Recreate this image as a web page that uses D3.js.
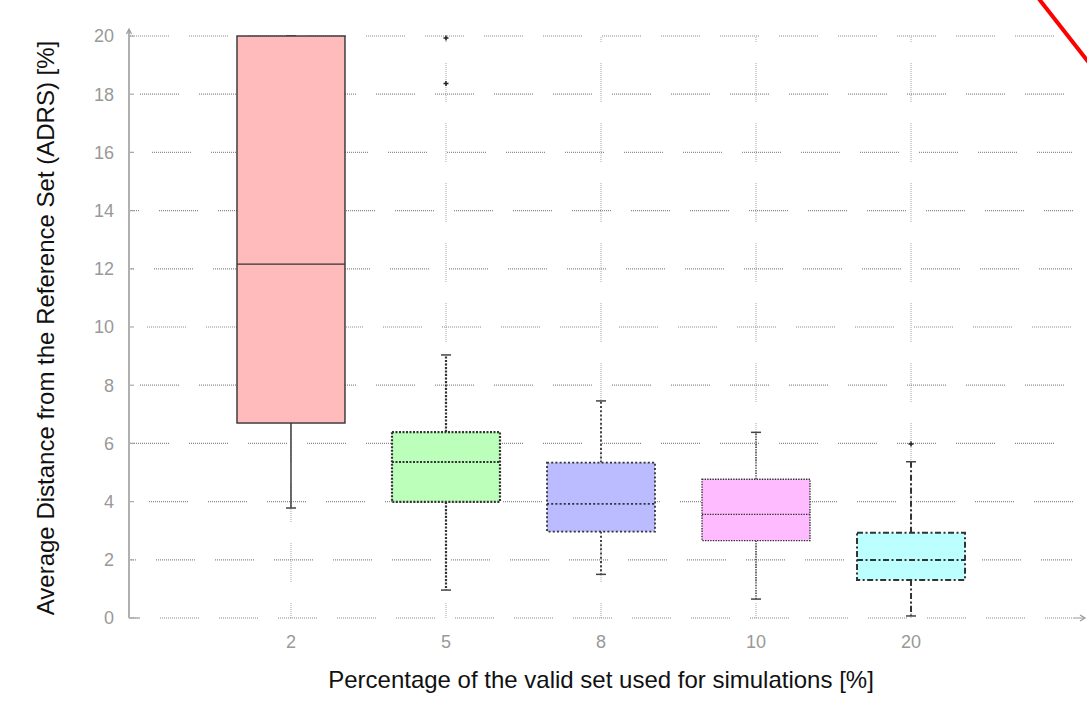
<!DOCTYPE html>
<html>
<head>
<meta charset="utf-8">
<script src="https://cdn.jsdelivr.net/npm/d3@7"></script>
<style>
  html, body { margin: 0; padding: 0; background: #fff; }
  svg { display: block; font-family: "Liberation Sans", Arial, sans-serif; }
</style>
</head>
<body>
<svg id="chart" width="1087" height="701"></svg>
<script>
// ---- data ----
const categories = ["2", "5", "8", "10", "20"];
const q1 = [6.70, 3.99, 2.97, 2.66, 1.31];
const median = [12.16, 5.36, 3.92, 3.56, 1.99];
const q3 = [20.0, 6.39, 5.34, 4.77, 2.93];
const whiskerLow = [3.78, 0.96, 1.50, 0.65, 0.07];
const whiskerHigh = [20.0, 9.04, 7.46, 6.38, 5.37];
const outliers = [[], [19.93, 18.37], [], [], [5.98]];
const yTicks = [0, 2, 4, 6, 8, 10, 12, 14, 16, 18, 20];
const fills = ["#ffbbbb", "#bbffbb", "#bbbbff", "#ffbbff", "#bbffff"];
const strokeDash = [null, "2,1.5", "2,2.2", "1.4,1.2", "6,2.5,2,2.5"];
const strokeWidths = [1.4, 2.2, 1.8, 1.4, 2];
const xTitle = "Percentage of the valid set used for simulations [%]";
const yTitle = "Average Distance from the Reference Set (ADRS) [%]";

(function () {
// ---- layout ----
const svg = d3.select("#chart");
const mLeft = 129, mRight = 1073, mTop = 36, mBottom = 618;
const x = d3.scalePoint().domain(categories).range([mLeft, mRight]).padding(1.045);
const y = d3.scaleLinear().domain([0, 20]).range([mBottom, mTop]);
const boxW = 108;
const gridPhase = {20: 0, 18: 11, 16: 23, 14: 30, 12: 25, 10: 18, 8: 11, 6: 0, 4: 20, 2: 27, 0: 31};

// dotted dash pattern: 40px of fine dots, then a gap
function dottedDash(dashLen, gap) {
  const arr = [];
  for (let k = 0; k < dashLen / 2; k++) arr.push(1, 1);
  arr[arr.length - 1] += gap - 1;
  return arr.join(",");
}

// vertical grid lines
svg.append("g").selectAll("line").data(categories).join("line")
  .attr("x1", d => x(d)).attr("x2", d => x(d))
  .attr("y1", mTop).attr("y2", mBottom)
  .attr("stroke", "#a8a8a8").attr("stroke-width", 1)
  .attr("stroke-dasharray", dottedDash(40, 21)).attr("stroke-dashoffset", -27);

// horizontal grid lines
svg.append("g").selectAll("line").data(yTicks).join("line")
  .attr("x1", mLeft + 1).attr("x2", mRight)
  .attr("y1", d => y(d)).attr("y2", d => y(d))
  .attr("stroke", "#8a8a8a").attr("stroke-width", 1.2)
  .attr("stroke-dasharray", dottedDash(40, 20))
  .attr("stroke-dashoffset", d => (60 - gridPhase[d]) % 60);

// small ticks at the axis
svg.append("g").selectAll("line").data(yTicks).join("line")
  .attr("x1", mLeft).attr("x2", mLeft + 5)
  .attr("y1", d => y(d)).attr("y2", d => y(d))
  .attr("stroke", "#aaa").attr("stroke-width", 1.2);

// y axis line
svg.append("line").attr("x1", mLeft).attr("x2", mLeft)
  .attr("y1", mTop - 6).attr("y2", mBottom)
  .attr("stroke", "#b0b0b0").attr("stroke-width", 2);
svg.append("path").attr("d", `M${mLeft - 2.5},${mTop - 2} L${mLeft},${mTop - 7} L${mLeft + 2.5},${mTop - 2}`)
  .attr("fill", "none").attr("stroke", "#999").attr("stroke-width", 1.2);
svg.append("line").attr("x1", mLeft).attr("x2", mLeft + 10)
  .attr("y1", mBottom).attr("y2", mBottom)
  .attr("stroke", "#b0b0b0").attr("stroke-width", 1.5);
// x axis arrow
svg.append("line").attr("x1", mRight).attr("x2", 1085)
  .attr("y1", mBottom).attr("y2", mBottom)
  .attr("stroke", "#999").attr("stroke-width", 1);
svg.append("path").attr("d", `M1080,${mBottom - 3} L1085,${mBottom} L1080,${mBottom + 3}`)
  .attr("fill", "none").attr("stroke", "#999").attr("stroke-width", 1.2);

// y tick labels
svg.append("g").selectAll("text").data(yTicks).join("text")
  .attr("x", 114).attr("y", d => y(d))
  .attr("dy", "0.36em").attr("text-anchor", "end")
  .attr("fill", "#999").attr("font-size", 18)
  .text(d => d);

// x tick labels
svg.append("g").selectAll("text").data(categories).join("text")
  .attr("x", d => x(d)).attr("y", 648)
  .attr("text-anchor", "middle")
  .attr("fill", "#999").attr("font-size", 18)
  .text(d => d);

// boxes
const boxes = svg.append("g");
categories.forEach((c, i) => {
  const g = boxes.append("g");
  const cx = x(c);
  const st = "#333";
  const applyStyle = sel => sel.attr("stroke", st).attr("stroke-width", strokeWidths[i])
    .attr("stroke-dasharray", strokeDash[i]).attr("fill", "none");
  // whiskers
  applyStyle(g.append("line").attr("x1", cx).attr("x2", cx)
    .attr("y1", y(q1[i])).attr("y2", y(whiskerLow[i])));
  applyStyle(g.append("line").attr("x1", cx).attr("x2", cx)
    .attr("y1", y(q3[i])).attr("y2", y(whiskerHigh[i])));
  // caps
  [whiskerLow[i], whiskerHigh[i]].forEach(v => {
    g.append("line").attr("x1", cx - 5).attr("x2", cx + 5)
      .attr("y1", y(v)).attr("y2", y(v))
      .attr("stroke", "#444").attr("stroke-width", 1.5);
  });
  // box
  g.append("rect")
    .attr("x", cx - boxW / 2).attr("width", boxW)
    .attr("y", y(q3[i])).attr("height", y(q1[i]) - y(q3[i]))
    .attr("fill", fills[i]);
  applyStyle(g.append("rect")
    .attr("x", cx - boxW / 2).attr("width", boxW)
    .attr("y", y(q3[i])).attr("height", y(q1[i]) - y(q3[i])));
  // median
  applyStyle(g.append("line").attr("x1", cx - boxW / 2).attr("x2", cx + boxW / 2)
    .attr("y1", y(median[i])).attr("y2", y(median[i])));
  // outliers
  outliers[i].forEach(v => {
    g.append("path")
      .attr("d", `M${cx - 2.5},${y(v)} H${cx + 2.5} M${cx},${y(v) - 2.5} V${y(v) + 2.5}`)
      .attr("stroke", "#222").attr("stroke-width", 1.5);
  });
});

// axis titles
svg.append("text").attr("x", x("8")).attr("y", 688)
  .attr("text-anchor", "middle").attr("font-size", 24).attr("fill", "#111")
  .text(xTitle);
svg.append("text")
  .attr("transform", `translate(54,${(mTop + mBottom) / 2 + 1}) rotate(-90)`)
  .attr("text-anchor", "middle").attr("font-size", 24).attr("fill", "#111")
  .text(yTitle);

// red annotation stroke in the top-right corner
svg.append("line").attr("x1", 1039).attr("y1", -1).attr("x2", 1090).attr("y2", 64)
  .attr("stroke", "#ff0000").attr("stroke-width", 4);
})();
</script>
</body>
</html>
